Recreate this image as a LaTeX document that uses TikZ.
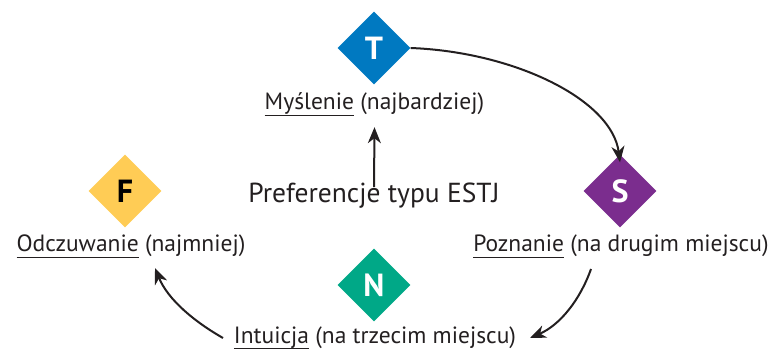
\documentclass[tikz,border=0pt]{standalone}
\usepackage{fontspec}
\setmainfont{PT Sans}
\usetikzlibrary{shapes.geometric,arrows.meta}
\definecolor{cT}{HTML}{0079C1}
\definecolor{cF}{HTML}{FFCC55}
\definecolor{cS}{HTML}{7B2D8E}
\definecolor{cN}{HTML}{00A887}
\definecolor{ink}{HTML}{231F20}
\newcommand\myul[1]{\setbox0\hbox{#1}\rlap{\rule[-6pt]{\wd0}{1pt}}\box0\relax}
\tikzset{
  dia/.style={diamond, aspect=1, inner sep=0pt, minimum width=73pt, minimum height=73pt,
    font=\fontsize{32}{32}\selectfont\bfseries, text=white},
  lbl/.style={anchor=base, inner sep=0pt, text=ink, font=\fontsize{23.5}{23.5}\selectfont},
  conn/.style={draw=ink, line width=2pt, -{Stealth[length=16pt,width=13pt,inset=5pt]}}
}
\begin{document}
\begin{tikzpicture}[x=1pt,y=-1pt]
\useasboundingbox (0,0) rectangle (770,352);
\node[dia, fill=cT] (T) at (374,48) {T};
\node[dia, fill=cF, text=black] (F) at (125,191) {F};
\node[dia, fill=cS] (S) at (620,191) {S};
\node[dia, fill=cN] (N) at (374,285) {N};
\node[lbl] (M) at (374.5,110) {\myul{Myślenie} (najbardziej)};
\node[lbl] (O) at (131,252) {\myul{Odczuwanie} (najmniej)};
\node[lbl] (P) at (621,252) {\myul{Poznanie} (na drugim miejscu)};
\node[lbl] (I) at (375,343) {\myul{Intuicja} (na trzecim miejscu)};
\node[lbl, font=\fontsize{27.5}{27.5}\selectfont] (E) at (374,203) {Preferencje typu ESTJ};
\draw[conn] ([yshift=-4pt]E.north) -- ([yshift=-11pt]M.south);
\draw[conn] (T.east) .. controls (515,52) and (612,100) .. ([yshift=-8pt]S.north);
\draw[conn] (591,269) .. controls (580,300) and (560,325) .. (530,338);
\draw[conn] (223,338) .. controls (195,322) and (168,300) .. (155,268);
\end{tikzpicture}
\end{document}
